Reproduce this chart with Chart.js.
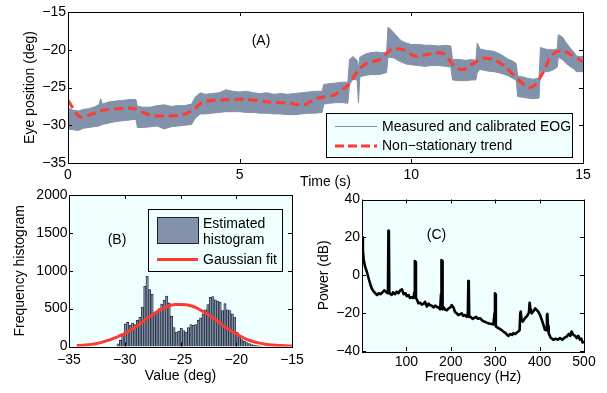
<!DOCTYPE html>
<html>
<head>
<meta charset="utf-8">
<script src="https://cdn.jsdelivr.net/npm/chart.js@4"></script>
<style>
  body { margin: 0; background: #fff; width: 607px; height: 393px; position: relative; overflow: hidden; }
  .panel { position: absolute; }
</style>
</head>
<body>
<div class="panel" style="left:0;top:0;width:607px;height:195px"><canvas id="chartA"></canvas></div>
<div class="panel" style="left:0;top:185px;width:310px;height:208px"><canvas id="chartB"></canvas></div>
<div class="panel" style="left:300px;top:185px;width:307px;height:208px"><canvas id="chartC"></canvas></div>
<script>
// ---- (A) EOG time series: envelope of the measured signal + trend
const bandTime = [0, 0.15, 0.3, 0.45, 0.6, 0.75, 0.9, 0.95, 1.0, 1.2, 1.4, 1.6, 1.8, 1.98, 2.02, 2.2, 2.4, 2.6, 2.8, 3.0,
  3.2, 3.4, 3.6, 3.7, 3.85, 4.0, 4.2, 4.4, 4.6, 4.8, 5.0, 5.2, 5.4, 5.6, 5.8, 6.0, 6.2, 6.4, 6.6, 6.8,
  7.0, 7.2, 7.4, 7.45, 7.6, 7.8, 8.0, 8.15, 8.2, 8.3, 8.42, 8.46, 8.5, 8.65, 8.8, 9.0, 9.15, 9.28, 9.32, 9.4,
  9.5, 9.6, 9.7, 9.85, 10.0, 10.2, 10.4, 10.6, 10.8, 11.0, 11.15, 11.2, 11.4, 11.6, 11.75, 11.88, 11.92, 12.0, 12.2, 12.4,
  12.6, 12.8, 12.95, 13.05, 13.1, 13.25, 13.4, 13.55, 13.72, 13.76, 13.9, 14.0, 14.15, 14.25, 14.28, 14.4, 14.5, 14.65, 14.75, 14.8,
  14.9, 15.0];
const bandUpper = [-27.7, -28.0, -28.1, -27.9, -27.8, -27.6, -27.3, -26.5, -27.2, -26.9, -26.8, -26.7, -26.6, -26.6, -27.5, -27.6, -27.6, -27.4, -27.3, -27.5,
  -27.4, -27.4, -27.2, -26.3, -25.7, -25.9, -25.8, -25.7, -25.3, -25.5, -25.6, -25.5, -25.7, -25.8, -25.7, -25.9, -25.8, -25.9, -25.8, -25.7,
  -25.6, -25.5, -25.5, -24.6, -24.5, -24.4, -24.3, -24.3, -21.3, -20.9, -21.4, -22.4, -21.0, -20.6, -20.4, -20.3, -20.4, -20.3, -17.0, -17.3,
  -17.8, -18.3, -18.8, -19.1, -19.3, -19.3, -19.4, -19.4, -19.5, -19.4, -19.5, -21.3, -21.3, -21.4, -21.3, -21.4, -19.1, -19.9, -20.1, -20.2,
  -20.6, -21.2, -21.5, -21.8, -23.5, -23.6, -23.8, -23.9, -23.8, -19.7, -19.9, -20.0, -20.0, -19.9, -18.0, -18.3, -19.0, -19.9, -20.4, -20.8,
  -20.9, -20.9];
const bandLower = [-30.5, -30.6, -30.7, -30.4, -30.3, -30.2, -30.1, -30.0, -29.9, -29.7, -29.5, -29.4, -29.3, -29.2, -30.3, -30.3, -30.2, -30.1, -30.5, -30.2,
  -30.1, -30.0, -29.9, -29.1, -28.5, -28.5, -28.4, -28.3, -28.2, -28.2, -28.2, -28.3, -28.3, -28.4, -28.4, -28.5, -28.5, -28.6, -28.6, -28.5,
  -28.4, -28.4, -28.3, -27.2, -27.1, -27.0, -27.0, -27.1, -24.6, -23.9, -24.0, -27.0, -23.6, -23.4, -23.3, -23.3, -23.2, -23.0, -21.0, -21.0,
  -21.1, -21.4, -21.6, -21.9, -22.0, -22.1, -22.2, -22.1, -22.1, -22.2, -22.3, -24.0, -24.1, -24.1, -24.0, -24.0, -23.0, -22.6, -22.8, -22.9,
  -23.1, -23.4, -23.8, -24.0, -26.2, -26.3, -26.4, -26.5, -26.4, -22.8, -22.9, -22.9, -22.6, -22.3, -21.0, -21.3, -21.8, -22.3, -22.6, -22.9,
  -22.9, -22.9];
const trendTime = [0, 0.35, 0.7, 1.03, 1.6, 1.9, 2.39, 2.87, 3.31, 3.65, 3.94, 4.43, 5.2, 5.79, 6.47, 6.86, 7.24, 7.73, 8.16, 8.46,
  8.7, 9.09, 9.43, 9.77, 10.1, 10.55, 10.93, 11.27, 11.52, 11.81, 12.1, 12.44, 12.78, 13.12, 13.41, 13.6, 13.85, 14.09, 14.38, 14.67, 15];
const trendDeg = [-26.7, -28.9, -28.5, -28.0, -27.76, -27.76, -28.64, -28.77, -28.64, -27.98, -26.88, -26.66, -26.57, -26.9, -27.1, -27.3, -26.44, -26.0, -24.67, -22.68,
  -21.8, -21.27, -19.94, -20.0, -20.83, -20.56, -20.5, -22.24, -22.6, -21.8, -21.14, -21.36, -22.46, -24.0, -24.97, -24.67, -22.9, -20.7, -20.1, -20.7, -21.6];

// ---- (B) histogram and Gaussian fit
const binCenters = [-30.60, -30.38, -30.17, -29.95, -29.73, -29.51, -29.29, -29.08, -28.86, -28.64,
  -28.42, -28.20, -27.99, -27.77, -27.55, -27.33, -27.11, -26.90, -26.68, -26.46,
  -26.24, -26.02, -25.81, -25.59, -25.37, -25.15, -24.93, -24.72, -24.50, -24.28,
  -24.06, -23.85, -23.63, -23.41, -23.19, -22.97, -22.76, -22.54, -22.32, -22.10,
  -21.88, -21.67, -21.45, -21.23, -21.01, -20.79, -20.58, -20.36, -20.14, -19.92,
  -19.71, -19.49, -19.27, -19.05, -18.83, -18.62, -18.40, -18.18, -17.96, -17.75];
const binCounts = [35, 80, 160, 300, 318, 280, 310, 290, 345, 390,
  520, 795, 927, 750, 690, 440, 455, 500, 560, 610,
  665, 575, 400, 250, 190, 200, 240, 210, 190, 250,
  290, 280, 290, 345, 380, 430, 485, 555, 650, 660,
  617, 600, 587, 475, 565, 485, 475, 430, 390, 190,
  125, 90, 70, 53, 40, 26, 18, 12, 8, 5];
const gaussX = [-34.3, -33.5, -33, -32.5, -32, -31.5, -31, -30.5, -30, -29.5, -29, -28.5, -28, -27.5, -27, -26.5, -26, -25.5, -25, -24.5,
  -24, -23.5, -23, -22.5, -22, -21.5, -21, -20.5, -20, -19.5, -19, -18.5, -18, -17.5, -17, -16.5, -16, -15.5, -15];
const gaussY = [12, 20, 28, 40, 58, 80, 108, 138, 170, 215, 262, 312, 372, 420, 470, 510, 538, 553, 556, 552,
  535, 505, 462, 418, 366, 312, 258, 212, 168, 125, 90, 66, 48, 34, 24, 17, 12, 9, 7];

// ---- (C) power spectrum
const freqHz = [0, 2, 4, 7, 10, 13, 16, 19, 22, 26, 30, 34, 38, 42, 46, 50, 54, 57, 58.5, 59.5,
  60.5, 61.5, 64, 67, 70, 74, 78, 82, 86, 90, 94, 98, 101, 105, 108, 112, 116, 118, 119, 120.5,
  121.5, 124, 127, 131, 135, 139, 142, 146, 150, 153, 157, 161, 165, 168, 172, 176, 178, 179, 180.5, 181.5,
  184, 187, 191, 195, 199, 202, 206, 209.6, 213, 217, 221, 224.6, 228, 232, 236, 238.5, 239.5, 240.5, 241.5, 245,
  249, 253, 257, 261, 266, 271, 276, 281, 286, 292, 296, 298.5, 299.5, 300.5, 301.5, 307, 312, 318, 323, 327,
  330, 334, 338, 341, 345, 349, 352, 355, 356.5, 357.5, 359, 362, 367, 372, 376, 377.5, 379, 382, 386, 390,
  394, 397, 401, 405, 409, 412, 415, 416.5, 417.5, 419, 420.5, 425, 431, 436, 441, 446, 451, 456, 461, 466,
  469, 472, 476, 480, 483.6, 487, 491, 494, 497, 500];
const powerDb = [20, 13, 8, 4.5, 2.5, 0, -2.5, -5, -7, -8.5, -9.5, -10.5, -9.5, -10, -9, -8, -8.7, -9.5, -8, 23.5,
  23, -9, -10, -10.4, -9, -10, -8.7, -9.5, -8, -7.5, -10, -9.5, -11, -10.5, -12, -11.6, -12, -9, 7.5, 7,
  -12, -13, -14.8, -14.5, -15.5, -15, -14, -16.5, -15, -15.8, -16, -17, -16, -16.6, -17, -18, -10, 8, 7.5, -18,
  -17, -18.1, -18.5, -17.5, -17, -15.8, -17, -19.5, -20, -21, -20.5, -20.1, -21.5, -21, -22, -20, -3, -4, -22, -22,
  -23, -22.5, -22, -23, -22.7, -24, -24.5, -25, -25.5, -25.7, -26, -20, -9.5, -10, -27, -27.9, -28.5, -29.7, -30.5, -31.5,
  -32, -31, -31.5, -30.6, -31, -30.2, -29.7, -29, -20, -19.2, -23, -24.5, -22.7, -21.5, -19.7, -14.5, -17, -20.1, -19, -17.5,
  -18.5, -19.2, -21, -23.6, -26.5, -28.8, -29, -21, -20.4, -27, -30.6, -33, -34.1, -33.5, -34, -33.2, -34, -33, -32.4, -31,
  -32, -29.7, -31.5, -32, -33.2, -32, -34, -33.5, -35.5, -35];

const RED = '#ff3a30';
const BAND = '#8292aa';
const CYAN = '#efffff';

Chart.defaults.font.family = "'Liberation Sans', Arial, sans-serif";
Chart.defaults.font.size = 14;
Chart.defaults.color = '#000';

const fmt = v => (v < 0 ? '\u2212' + Math.abs(v) : String(v));
const pts = (xs, ys) => xs.map((x, i) => ({ x: x, y: ys[i] }));

// plot area background, box and inward tick marks (matlab style)
const boxPlugin = {
  id: 'box',
  beforeDraw(chart, args, opts) {
    const { ctx, chartArea: a } = chart;
    ctx.save();
    ctx.fillStyle = opts.bg || '#fff';
    ctx.fillRect(a.left, a.top, a.right - a.left, a.bottom - a.top);
    ctx.restore();
  },
  afterDatasetsDraw(chart) {
    const { ctx, chartArea: a, scales } = chart;
    const L = 4;
    ctx.save();
    ctx.strokeStyle = '#000';
    ctx.lineWidth = 1;
    ctx.beginPath();
    scales.x.ticks.forEach(t => {
      const px = Math.round(scales.x.getPixelForValue(t.value)) + 0.5;
      ctx.moveTo(px, a.bottom); ctx.lineTo(px, a.bottom - L);
      ctx.moveTo(px, a.top); ctx.lineTo(px, a.top + L);
    });
    scales.y.ticks.forEach(t => {
      const py = Math.round(scales.y.getPixelForValue(t.value)) + 0.5;
      ctx.moveTo(a.left, py); ctx.lineTo(a.left + L, py);
      ctx.moveTo(a.right, py); ctx.lineTo(a.right - L, py);
    });
    ctx.stroke();
    ctx.strokeRect(Math.round(a.left) + 0.5, Math.round(a.top) + 0.5,
      Math.round(a.right - a.left), Math.round(a.bottom - a.top));
    ctx.restore();
  }
};

function text(ctx, s, x, y, align) {
  ctx.textAlign = align || 'left';
  ctx.textBaseline = 'middle';
  ctx.fillText(s, x, y);
}

function baseOptions(pad, bg) {
  return {
    responsive: true,
    maintainAspectRatio: false,
    animation: false,
    events: [],
    layout: { padding: pad },
    plugins: { legend: { display: false }, tooltip: { enabled: false }, box: { bg: bg } }
  };
}

function axis(min, max, step, title, titlePad, size, horizontal, tickPad, cb) {
  return {
    type: 'linear', min: min, max: max, offset: false,
    grid: { display: false, drawTicks: false }, border: { display: false },
    ticks: { stepSize: step, padding: tickPad, maxRotation: 0, autoSkip: false, callback: cb || fmt },
    title: { display: true, text: title, padding: titlePad },
    afterFit(s) { if (horizontal) s.height = size; else s.width = size; }
  };
}

// ---------------- (A)
const decoA = {
  id: 'decoA',
  afterDraw(chart) {
    const ctx = chart.ctx;
    ctx.save();
    ctx.font = "14px 'Liberation Sans', Arial, sans-serif";
    ctx.fillStyle = '#000';
    text(ctx, '(A)', 261, 41, 'center');
    ctx.fillStyle = CYAN;
    ctx.fillRect(326.5, 113.5, 246, 44);
    ctx.strokeStyle = '#000';
    ctx.lineWidth = 1;
    ctx.strokeRect(326.5, 113.5, 246, 44);
    ctx.strokeStyle = BAND;
    ctx.beginPath(); ctx.moveTo(335, 126.5); ctx.lineTo(377, 126.5); ctx.stroke();
    ctx.strokeStyle = RED;
    ctx.lineWidth = 3;
    ctx.setLineDash([9, 4]);
    ctx.beginPath(); ctx.moveTo(335, 146); ctx.lineTo(377, 146); ctx.stroke();
    ctx.setLineDash([]);
    ctx.fillStyle = '#000';
    text(ctx, 'Measured and calibrated EOG', 382, 127);
    text(ctx, 'Non\u2212stationary trend', 382, 146.5);
    ctx.restore();
  }
};

const optA = baseOptions({ top: 12, right: 24, left: 0, bottom: 0 }, '#fff');
optA.scales = {
  x: axis(0, 15, 5, 'Time (s)', { top: 0, bottom: 4 }, 32, true, 4),
  y: axis(-35, -15, 5, 'Eye position (deg)', { top: 21.6, bottom: 0 }, 68, false, 2)
};
new Chart('chartA', {
  type: 'line',
  data: {
    datasets: [
      { data: pts(trendTime, trendDeg), borderColor: RED, borderWidth: 3, borderDash: [9, 5],
        pointRadius: 0, fill: false, tension: 0.3 },
      { data: pts(bandTime, bandUpper), borderColor: BAND, borderWidth: 1, pointRadius: 0,
        fill: '+1', backgroundColor: BAND },
      { data: pts(bandTime, bandLower), borderColor: BAND, borderWidth: 1, pointRadius: 0, fill: false }
    ]
  },
  options: optA,
  plugins: [boxPlugin, decoA]
});

// ---------------- (B)
const decoB = {
  id: 'decoB',
  afterDraw(chart) {
    const ctx = chart.ctx;
    ctx.save();
    ctx.font = "14px 'Liberation Sans', Arial, sans-serif";
    ctx.fillStyle = '#000';
    text(ctx, '(B)', 117, 55, 'center');
    ctx.fillStyle = CYAN;
    ctx.fillRect(148.5, 24.5, 134, 62);
    ctx.strokeStyle = '#000';
    ctx.lineWidth = 1;
    ctx.strokeRect(148.5, 24.5, 134, 62);
    ctx.fillStyle = BAND;
    ctx.fillRect(157, 32, 41, 26);
    ctx.strokeStyle = '#1c2433';
    ctx.strokeRect(157.5, 32.5, 41, 26);
    ctx.strokeStyle = RED;
    ctx.lineWidth = 3;
    ctx.beginPath(); ctx.moveTo(157, 74.5); ctx.lineTo(198, 74.5); ctx.stroke();
    ctx.fillStyle = '#000';
    text(ctx, 'Estimated', 203, 39);
    text(ctx, 'histogram', 203, 55.5);
    text(ctx, 'Gaussian fit', 203, 75.5);
    ctx.restore();
  }
};

const optB = baseOptions({ top: 10, right: 18, left: 0, bottom: 0 }, CYAN);
optB.scales = {
  x: axis(-35, -15, 5, 'Value (deg)', { top: 0, bottom: 8.6 }, 46.5, true, 5),
  y: axis(0, 2000, 500, 'Frequency histogram', { top: 12, bottom: 0 }, 69, false, 1.5)
};
new Chart('chartB', {
  type: 'bar',
  data: {
    datasets: [
      { type: 'line', data: pts(gaussX, gaussY), borderColor: RED, borderWidth: 3, pointRadius: 0,
        fill: false, tension: 0.3 },
      { type: 'bar', data: pts(binCenters, binCounts), backgroundColor: BAND, borderColor: '#1c2433',
        borderWidth: 0.8, barPercentage: 1, categoryPercentage: 1 }
    ]
  },
  options: optB,
  plugins: [boxPlugin, decoB]
});

// ---------------- (C)
const decoC = {
  id: 'decoC',
  afterDraw(chart) {
    const ctx = chart.ctx;
    ctx.save();
    ctx.font = "14px 'Liberation Sans', Arial, sans-serif";
    ctx.fillStyle = '#000';
    text(ctx, '(C)', 136.5, 50, 'center');
    ctx.restore();
  }
};

const optC = baseOptions({ top: 14.5, right: 23, left: 0, bottom: 0 }, CYAN);
optC.scales = {
  x: axis(0, 500, 100, 'Frequency (Hz)', { top: 0, bottom: 7 }, 42, true, 2.5, v => (v === 0 ? '' : fmt(v))),
  y: axis(-40, 40, 20, 'Power (dB)', { top: 15.6, bottom: 0 }, 62, false, 2)
};
new Chart('chartC', {
  type: 'line',
  data: {
    datasets: [
      { data: pts(freqHz, powerDb), borderColor: '#000', borderWidth: 2.6, pointRadius: 0, fill: false,
        borderJoinStyle: 'round' }
    ]
  },
  options: optC,
  plugins: [boxPlugin, decoC]
});
</script>
</body>
</html>
